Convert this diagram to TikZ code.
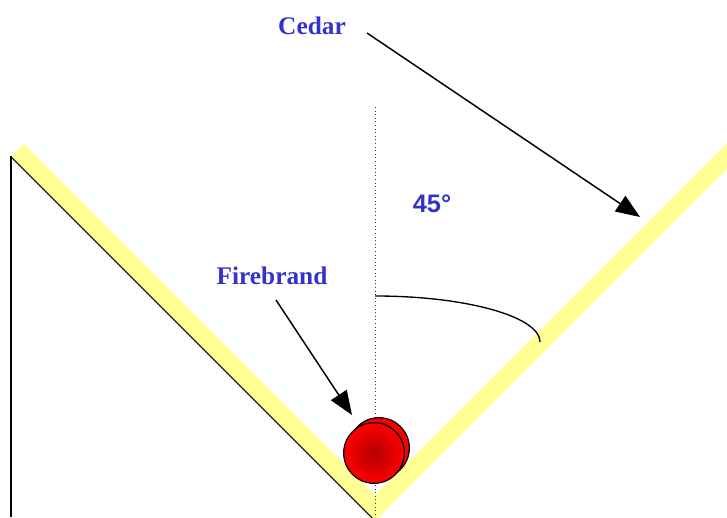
\documentclass[tikz,border=0pt]{standalone}
\usepackage{fontspec}
\setmainfont{Liberation Serif}
\newfontfamily\arialfont{Liberation Sans}
\usetikzlibrary{arrows.meta}
\definecolor{cedaryellow}{RGB}{255,255,150}
\definecolor{labelblue}{RGB}{51,51,204}
\definecolor{brandred}{RGB}{255,0,0}

\begin{document}
\begin{tikzpicture}[
    x=0.75pt, y=0.75pt,
    board/.style={
        fill=cedaryellow,
        draw=none
    },
    edge/.style={
        draw=black,
        line width=0.8pt
    },
    pointer/.style={
        -{Triangle[length=18pt, width=14pt]},
        line width=1.1pt
    },
    brand/.style={
        circle, draw=black, line width=0.9pt,
        minimum size=45.5pt, inner sep=0pt,
        inner color=red!70!black, outer color=brandred
    },
    tag/.style={
        text=labelblue,
        font=\fontsize{19}{19}\selectfont\bfseries
    }
]
\useasboundingbox (0,0) rectangle (727,517);
\clip (0,0) rectangle (727,517);

% Geometry parameters
\def\vx{375}   % x of the V apex
\def\vy{-4}    % y of the outer apex
\def\t{26}     % vertical thickness of the boards

% Cedar boards in a V
\fill[board] (11,360) -- (\vx,\vy) -- (740,361) -- (740,361+\t)
    -- (\vx,\vy+\t) -- (24,373) -- cycle;
\draw[edge] (11,360) -- (\vx,\vy);
\draw[edge] (11,0) -- (11,361);

% Axis of the V and the angle
\draw[dotted, line width=0.7pt, black!80] (\vx,410) -- (\vx,0);
\draw[line width=1pt] (\vx,221) arc[start angle=90, end angle=0, x radius=165, y radius=46];
\node[tag, anchor=base, font=\arialfont\fontsize{19}{19}\selectfont\bfseries] (angle) at (432,304) {45°};

% Firebrand
\node[brand] (brandback) at (379,69) {};
\node[brand] (brandfront) at (374,64) {};

% Labels and arrows
\node[tag, anchor=base] (cedar) at (312,482) {Cedar};
\node[tag, anchor=base] (firebrand) at (272,232) {Firebrand};
\coordinate (cedartail) at (367,484);
\coordinate (cedartip) at (640,300);
\coordinate (brandtail) at (276,217);
\coordinate (brandtip) at (352,102);
\draw[pointer] (cedartail) -- (cedartip);
\draw[pointer] (brandtail) -- (brandtip);

\end{tikzpicture}
\end{document}
